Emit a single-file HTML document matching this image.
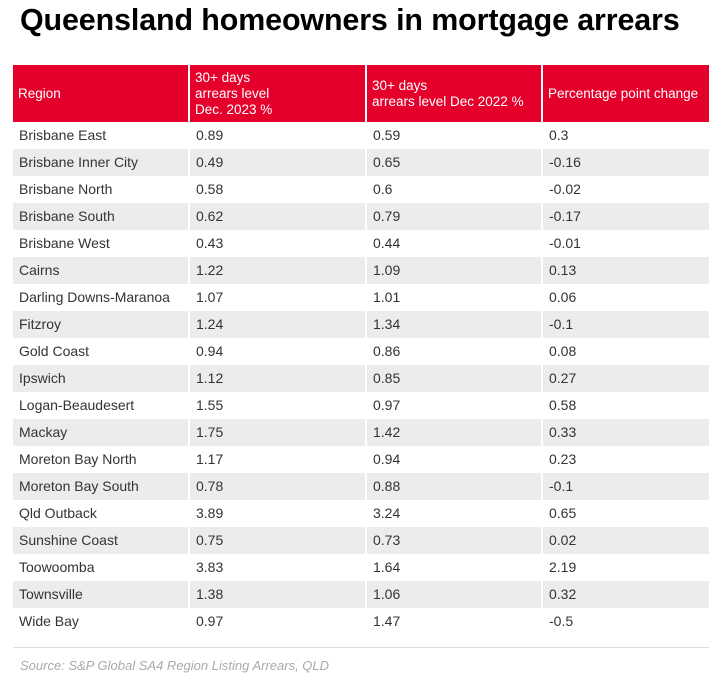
<!DOCTYPE html>
<html><head><meta charset="utf-8"><style>
body{margin:0;width:709px;height:695px;background:#fff;font-family:"Liberation Sans",Arial,sans-serif;position:relative;overflow:hidden}
h1{position:absolute;left:20px;top:3px;margin:0;font-size:30.4px;font-weight:bold;color:#000;letter-spacing:-0.1px;white-space:nowrap}
table{position:absolute;left:13px;top:65px;width:696px;border-collapse:collapse;font-size:14px;color:#333}
th{background:#e4002b;color:#fff;font-weight:normal;text-align:left;height:57px;padding:0 5px;line-height:16px;border-left:2px solid #fff;vertical-align:middle;white-space:nowrap;font-size:13.5px}
th:first-child{border-left:none}
td{height:27px;padding:0 6px;border-left:2px solid #fff;line-height:27px}
td:first-child{border-left:none}
tr:nth-child(odd) td{background:#ececec}
.wrap{position:absolute;left:0;top:0;width:709px;height:630px;overflow:hidden}
.line{position:absolute;left:13px;top:647px;width:696px;height:1px;background:#ddd}
.src{position:absolute;left:20px;top:658px;font-size:13px;font-style:italic;color:#aaa}
</style></head><body>
<h1>Queensland homeowners in mortgage arrears</h1>
<div class="wrap">
<table>
<colgroup><col style="width:176px"><col style="width:177px"><col style="width:176px"><col style="width:167px"></colgroup>
<tr><th>Region</th><th>30+ days<br>arrears level<br>Dec. 2023 %</th><th>30+ days<br>arrears level Dec 2022 %</th><th>Percentage point change</th></tr>
<tr><td>Brisbane East</td><td>0.89</td><td>0.59</td><td>0.3</td></tr>
<tr><td>Brisbane Inner City</td><td>0.49</td><td>0.65</td><td>-0.16</td></tr>
<tr><td>Brisbane North</td><td>0.58</td><td>0.6</td><td>-0.02</td></tr>
<tr><td>Brisbane South</td><td>0.62</td><td>0.79</td><td>-0.17</td></tr>
<tr><td>Brisbane West</td><td>0.43</td><td>0.44</td><td>-0.01</td></tr>
<tr><td>Cairns</td><td>1.22</td><td>1.09</td><td>0.13</td></tr>
<tr><td>Darling Downs-Maranoa</td><td>1.07</td><td>1.01</td><td>0.06</td></tr>
<tr><td>Fitzroy</td><td>1.24</td><td>1.34</td><td>-0.1</td></tr>
<tr><td>Gold Coast</td><td>0.94</td><td>0.86</td><td>0.08</td></tr>
<tr><td>Ipswich</td><td>1.12</td><td>0.85</td><td>0.27</td></tr>
<tr><td>Logan-Beaudesert</td><td>1.55</td><td>0.97</td><td>0.58</td></tr>
<tr><td>Mackay</td><td>1.75</td><td>1.42</td><td>0.33</td></tr>
<tr><td>Moreton Bay North</td><td>1.17</td><td>0.94</td><td>0.23</td></tr>
<tr><td>Moreton Bay South</td><td>0.78</td><td>0.88</td><td>-0.1</td></tr>
<tr><td>Qld Outback</td><td>3.89</td><td>3.24</td><td>0.65</td></tr>
<tr><td>Sunshine Coast</td><td>0.75</td><td>0.73</td><td>0.02</td></tr>
<tr><td>Toowoomba</td><td>3.83</td><td>1.64</td><td>2.19</td></tr>
<tr><td>Townsville</td><td>1.38</td><td>1.06</td><td>0.32</td></tr>
<tr><td>Wide Bay</td><td>0.97</td><td>1.47</td><td>-0.5</td></tr>
</table>
</div>
<div class="line"></div>
<div class="src">Source: S&amp;P Global SA4 Region Listing Arrears, QLD</div>
</body></html>
